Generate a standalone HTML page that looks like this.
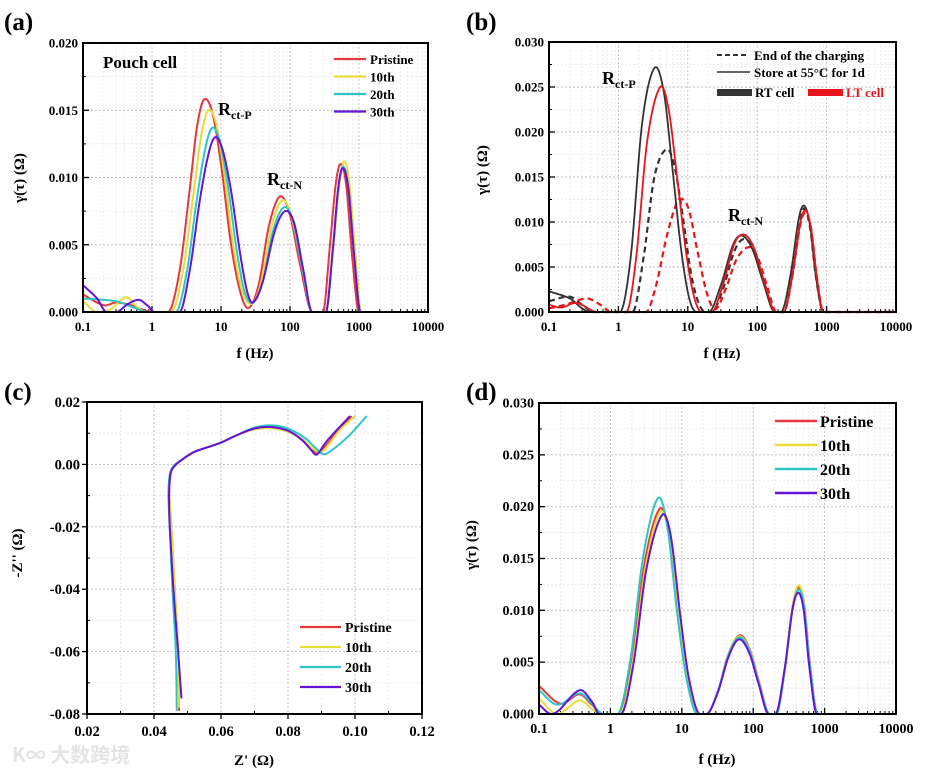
<!DOCTYPE html>
<html><head><meta charset="utf-8"><style>
html,body{margin:0;padding:0;background:#fff;}
svg{display:block;font-family:"Liberation Serif","Noto Serif CJK SC",serif;font-weight:bold;}
</style></head><body>
<svg id="fig" width="925" height="772" viewBox="0 0 925 772" xmlns="http://www.w3.org/2000/svg">
<text x="4" y="30" font-size="25">(a)</text>
<text x="466" y="30" font-size="25">(b)</text>
<text x="4" y="400" font-size="25">(c)</text>
<text x="466" y="400" font-size="25">(d)</text>
<text x="12" y="762" font-size="20" fill="#e4e4e4" font-family="Noto Sans CJK SC, sans-serif">K∞ 大数跨境</text>
</svg>
<script>
// ---------- Panel (a) data ----------
const aRedF=[0.1,0.2,0.3,0.5,0.8,1.2,1.7,2.5,3.5,4.5,5.7,7.5,10,14,19,25,35,50,72,100,140,210,300,380,460,540,650,800,1000,10000];
const aRedV=[.0013,.0005,.0007,.0005,.0001,0,0,.003,.009,.0138,.0158,.0148,.011,.005,.0015,.0003,.002,.0065,.0086,.0072,.0035,0,0,.005,.0095,.011,.0095,.004,0,0];
const aYelF=[0.1,0.16,0.25,0.42,0.6,0.8,1.9,2.8,4,5.2,6.6,8.5,11,15,20,28,38,55,78,105,150,210,330,420,520,620,730,880,1080,10000];
const aYelV=[.0008,0,.0002,.0011,.0004,0,0,.003,.0088,.0132,.015,.014,.0105,.005,.0017,.0006,.0022,.0065,.0083,.0071,.0033,0,0,.0045,.0095,.0112,.0095,.0045,0,0];
const aCyaF=[0.1,0.3,0.5,0.9,2.2,3.2,4.5,6,7.5,9.5,12.5,17,22,29,40,58,83,110,150,210,330,420,500,590,700,850,1050,10000];
const aCyaV=[.001,.0008,.0004,0,0,.003,.0085,.0123,.0137,.0128,.0095,.0045,.0015,.0007,.0022,.0062,.0078,.0068,.0033,0,0,.0048,.0092,.0108,.0093,.0042,0,0];
const aPurF=[0.1,0.16,0.22,0.3,0.45,0.65,0.85,1.1,2.5,3.5,5,6.7,8.3,10.5,14,19,24,29,40,60,85,115,155,210,330,420,500,580,700,850,1050,10000];
const aPurV=[.002,.001,0,0,.0006,.0009,.0005,0,0,.003,.0085,.0119,.013,.0121,.009,.0043,.0015,.0007,.0022,.006,.0075,.0066,.0032,0,0,.0048,.0092,.0107,.0092,.0042,0,0];
const aYTicks=[0,0.005,0.010,0.015,0.020];
const aYLabels=["0.000","0.005","0.010","0.015","0.020"];
const fTicks=[0.1,1,10,100,1000,10000];
const fLabels=["0.1","1","10","100","1000","10000"];
const cycleNames=["Pristine","10th","20th","30th"];
// ---------- Panel (b) data ----------
const bRTsF=[0.1,0.2,0.3,0.4,1.05,1.5,2.2,3.3,4.5,6,8,10.5,13.5,20,30,45,60,85,120,180,220,300,400,480,580,700,900,10000];
const bRTsV=[.0023,.0015,.0004,0,0,.006,.021,.0271,.0245,.016,.007,.0015,0,0,.003,.0075,.0085,.007,.0035,0,0,.004,.0105,.0118,.0095,.004,0,0];
const bLTsF=[0.1,0.15,0.25,0.5,1.3,1.8,2.6,4,5.3,7,9.5,12.5,16,22,32,47,65,90,125,185,240,320,420,500,600,720,900,10000];
const bLTsV=[.0008,.0005,.001,0,0,.006,.019,.025,.0225,.015,.0065,.0015,0,0,.003,.0076,.0086,.0071,.0035,0,0,.004,.0100,.0113,.0092,.004,0,0];
const bRTdF=[0.1,0.2,0.3,0.45,1.6,2.3,3.3,5,6.5,8.5,11,14,18,22,32,47,65,90,125,185,240,320,420,480,580,700,900,10000];
const bRTdV=[.0012,.0017,.0008,0,0,.006,.015,.0181,.016,.0105,.0045,.0012,0,0,.0025,.0068,.0081,.0068,.0033,0,0,.004,.0102,.0115,.0093,.004,0,0];
const bLTdF=[0.1,0.17,0.35,0.55,0.8,2.5,3.5,5,7,8.5,10.5,14,19,25,35,50,75,100,135,190,240,320,420,500,600,720,900,10000];
const bLTdV=[.0004,.0008,.0015,.0008,0,0,.003,.0085,.0122,.0125,.0112,.0065,.002,.0003,.0025,.0058,.0072,.0062,.0032,0,0,.004,.0098,.011,.0092,.004,0,0];
const bdYTicks=[0,0.005,0.010,0.015,0.020,0.025,0.030];
const bdYLabels=["0.000","0.005","0.010","0.015","0.020","0.025","0.030"];
// ---------- Panel (c) data ----------
const cRedZ=[0.0475,0.0472,0.0462,0.0452,0.0446,0.0447,0.0452,0.0466,0.049,0.052,0.056,0.060,0.065,0.070,0.075,0.080,0.084,0.087,0.089,0.091,0.095,0.099];
const cRedI=[-0.079,-0.06,-0.04,-0.02,-0.01,-0.005,-0.002,0,0.002,0.004,0.0055,0.007,0.0095,0.0113,0.0118,0.0106,0.008,0.0048,0.0038,0.0055,0.011,0.0155];
const cYelZ=[0.0475,0.0472,0.0462,0.0452,0.0446,0.0447,0.0452,0.0466,0.049,0.052,0.056,0.060,0.065,0.070,0.075,0.080,0.0845,0.0875,0.0895,0.0915,0.0955,0.1];
const cYelI=[-0.078,-0.06,-0.04,-0.02,-0.01,-0.005,-0.002,0,0.002,0.004,0.0055,0.007,0.0095,0.0112,0.0116,0.0104,0.0078,0.005,0.0038,0.0055,0.011,0.0155];
const cCyaZ=[0.0468,0.0465,0.0455,0.0447,0.0443,0.0445,0.045,0.0463,0.049,0.052,0.056,0.060,0.065,0.070,0.075,0.080,0.085,0.088,0.0905,0.093,0.098,0.1035];
const cCyaI=[-0.079,-0.06,-0.04,-0.02,-0.01,-0.005,-0.002,0,0.002,0.004,0.0055,0.007,0.0095,0.0118,0.0125,0.0115,0.0085,0.0055,0.0033,0.0045,0.009,0.0155];
const cPurZ=[0.0482,0.0472,0.0458,0.0447,0.0445,0.0447,0.0452,0.0466,0.049,0.052,0.056,0.060,0.065,0.070,0.075,0.080,0.084,0.087,0.088,0.089,0.092,0.0985];
const cPurI=[-0.075,-0.06,-0.04,-0.02,-0.01,-0.005,-0.002,0,0.002,0.004,0.0055,0.007,0.0095,0.0115,0.012,0.0108,0.008,0.0045,0.0033,0.0035,0.008,0.0155];
const cXTicks=[0.02,0.04,0.06,0.08,0.10,0.12];
const cXLabels=["0.02","0.04","0.06","0.08","0.10","0.12"];
const cYTicks=[-0.08,-0.06,-0.04,-0.02,0,0.02];
const cYLabels=["-0.08","-0.06","-0.04","-0.02","0.00","0.02"];
// ---------- Panel (d) data ----------
const dRedF=[0.1,0.2,0.37,0.55,0.8,1.3,2,3,4.9,6.5,9,12,17,22,32,45,65,90,120,170,210,280,360,440,520,620,800,10000];
const dRedV=[.0027,.001,.0019,.0009,0,0,.005,.0145,.0198,.0175,.0095,.0035,0,0,.0022,.0058,.0076,.0062,.0032,0,0,.0045,.0105,.0122,.0105,.005,0,0];
const dYelF=[0.1,0.18,0.37,0.6,0.8,1.35,2.05,3.1,5.0,6.6,9.1,12,17,22,32,45,64,90,120,170,210,280,360,440,520,620,800,10000];
const dYelV=[.0015,0,.0013,.0003,0,0,.005,.0142,.0195,.0173,.0094,.0034,0,0,.0022,.0058,.0075,.0061,.0031,0,0,.0045,.0107,.0124,.0104,.0048,0,0];
const dCyaF=[0.1,0.18,0.37,0.55,0.8,1.25,1.9,2.85,4.6,6.2,8.6,11.5,16.5,22,32,45,64,90,120,170,210,280,360,440,520,620,800,10000];
const dCyaV=[.0023,.0009,.002,.001,0,0,.0052,.015,.0208,.0183,.0098,.0036,0,0,.0022,.0057,.0074,.006,.003,0,0,.0045,.0103,.012,.0102,.0048,0,0];
const dPurF=[0.1,0.15,0.37,0.55,0.7,1.4,2.1,3.2,5.3,7,9.6,12.6,18,22,32,45,63,88,118,165,205,275,355,430,510,610,780,10000];
const dPurV=[.0009,0,.0023,.0012,0,0,.0048,.014,.0192,.0172,.0093,.0034,0,0,.0021,.0055,.0072,.0059,.003,0,0,.0043,.0101,.0117,.01,.0046,0,0];

const NS="http://www.w3.org/2000/svg";
const svg=document.getElementById('fig');
function el(tag,attrs,parent){const e=document.createElementNS(NS,tag);for(const k in attrs)e.setAttribute(k,attrs[k]);(parent||svg).appendChild(e);return e;}
function txt(s,x,y,size,anchor,parent,fill){const t=el('text',{x:x,y:y,'font-size':size,'text-anchor':anchor||'start',fill:fill||'#000'},parent);t.textContent=s;return t;}

// cubic Hermite with Catmull-Rom tangents (flat at zeros), clamped to >= 0
function monoPath(xs,ys,sx,sy){
  const n=xs.length,m=[];
  for(let i=0;i<n;i++){
    if(ys[i]===0||i===0||i===n-1){m[i]=(i===0)?(ys[1]-ys[0])/(xs[1]-xs[0]):(i===n-1?0:0);if(ys[i]===0)m[i]=0;continue;}
    m[i]=(ys[i+1]-ys[i-1])/(xs[i+1]-xs[i-1]);}
  let p='';
  for(let i=0;i<n-1;i++){const h=xs[i+1]-xs[i];const steps=14;
    for(let k=(i===0?0:1);k<=steps;k++){const t=k/steps,t2=t*t,t3=t2*t;
      const y=(2*t3-3*t2+1)*ys[i]+(t3-2*t2+t)*h*m[i]+(-2*t3+3*t2)*ys[i+1]+(t3-t2)*h*m[i+1];
      const x=xs[i]+t*h;p+=(p?'L':'M')+sx(x).toFixed(2)+','+sy(Math.max(0,y)).toFixed(2);}}
  return p;}
function crPath(xs,ys,sx,sy){
  const P=xs.map((x,i)=>[sx(x),sy(ys[i])]);let p='M'+P[0][0]+','+P[0][1];
  for(let i=0;i<P.length-1;i++){const p0=P[Math.max(0,i-1)],p1=P[i],p2=P[i+1],p3=P[Math.min(P.length-1,i+2)];
    p+='C'+(p1[0]+(p2[0]-p0[0])/6)+','+(p1[1]+(p2[1]-p0[1])/6)+' '+(p2[0]-(p3[0]-p1[0])/6)+','+(p2[1]-(p3[1]-p1[1])/6)+' '+p2[0]+','+p2[1];}
  return p;}

function logAxes(g,L,R,T,B,ymax,yTicks,yLabels,fs){
  const sx=f=>L+(Math.log10(f)+1)/5*(R-L);
  const sy=v=>B-v/ymax*(B-T);
  for(let dec=-1;dec<4;dec++)for(let k=2;k<10;k++){const x=sx(k*Math.pow(10,dec));
    el('line',{x1:x,x2:x,y1:T,y2:B,stroke:'#e6e6e6','stroke-width':0.8,'stroke-dasharray':'2,2'},g);
    el('line',{x1:x,x2:x,y1:B,y2:B-3,stroke:'#000','stroke-width':1},g);}
  for(let i=0;i<yTicks.length-1;i++){const y=sy((yTicks[i]+yTicks[i+1])/2);
    el('line',{x1:L,x2:R,y1:y,y2:y,stroke:'#e6e6e6','stroke-width':0.8,'stroke-dasharray':'2,2'},g);
    el('line',{x1:L,x2:L+3,y1:y,y2:y,stroke:'#000','stroke-width':1},g);}
  fTicks.forEach((f,i)=>{const x=sx(f);
    el('line',{x1:x,x2:x,y1:T,y2:B,stroke:'#bdbdbd','stroke-width':0.9,'stroke-dasharray':'2,2'},g);
    el('line',{x1:x,x2:x,y1:B,y2:B-6,stroke:'#000','stroke-width':1.3},g);
    const t=txt(fLabels[i],x,B+19,fs,'middle',g);
    
    });
  yTicks.forEach((v,i)=>{const y=sy(v);
    el('line',{x1:L,x2:R,y1:y,y2:y,stroke:'#bdbdbd','stroke-width':0.9,'stroke-dasharray':'2,2'},g);
    el('line',{x1:L,x2:L+6,y1:y,y2:y,stroke:'#000','stroke-width':1.3},g);
    const t=txt(yLabels[i],L-5,y+4.5,fs,'end',g);
    
    });
  return {sx,sy};}
function frame(g,L,R,T,B){const r=el('rect',{x:L,y:T,width:R-L,height:B-T,fill:'none',stroke:'#000','stroke-width':2},g);
  
  }

const COLS=['#e8373c','#e6dc3a','#2cc6c4','#6516d4'];

// ===== Panel a =====
(function(){
  const g=el('g',{});
  const L=83,R=428,T=43,B=312;
  const {sx,sy}=logAxes(g,L,R,T,B,0.020,aYTicks,aYLabels,13);
  const F=[aRedF,aYelF,aCyaF,aPurF],V=[aRedV,aYelV,aCyaV,aPurV];
  F.forEach((f,i)=>{const p=el('path',{d:monoPath(f.map(Math.log10),V[i],x=>L+(x+1)/5*(R-L),sy),fill:'none',stroke:COLS[i],'stroke-width':2},g);
    
    });
  frame(g,L,R,T,B);
  cycleNames.forEach((n,i)=>{const y=59+i*17.5;
    const ln=el('line',{x1:334,x2:366,y1:y,y2:y,stroke:COLS[i],'stroke-width':2.2},g);
    
    
    const t=txt(n,370,y+5,13,'start',g);
    
    });
  const pc=txt('Pouch cell',103,68,17,'start',g);
  const r1=el('text',{x:218,y:115,'font-size':18},g);r1.innerHTML='R<tspan font-size="12" dy="4">ct-P</tspan>';
  
  const r2=el('text',{x:267,y:185,'font-size':18},g);r2.innerHTML='R<tspan font-size="12" dy="4">ct-N</tspan>';
  
  const xt=txt('f (Hz)',255,358,15,'middle',g);
  const yt=txt('γ(τ) (Ω)',0,0,15,'middle',g);yt.setAttribute('transform','translate(24,178) rotate(-90)');
  
})();

// ===== Panel b =====
(function(){
  const g=el('g',{});
  const L=549,R=896,T=42,B=312;
  const {sx,sy}=logAxes(g,L,R,T,B,0.030,bdYTicks,bdYLabels,13);
  const lx=x=>L+(x+1)/5*(R-L);
  const S=[[bRTdF,bRTdV,'#333',true,'series-rt-end-charging'],[bLTdF,bLTdV,'#e8141b',true,'series-lt-end-charging'],[bRTsF,bRTsV,'#333',false,'series-rt-stored'],[bLTsF,bLTsV,'#e8141b',false,'series-lt-stored']];
  S.forEach(s=>{const a={d:monoPath(s[0].map(Math.log10),s[1],lx,sy),fill:'none',stroke:s[2],'stroke-width':s[3]?2.2:1.8};if(s[3])a['stroke-dasharray']='6,4';
    const p=el('path',a,g);
    
    });
  frame(g,L,R,T,B);
  const l1=el('line',{x1:717,x2:746,y1:55,y2:55,stroke:'#333','stroke-width':2,'stroke-dasharray':'5,3'},g);
  
  const t1=txt('End of the charging',754,60,13,'start',g);
  const l2=el('line',{x1:717,x2:750,y1:72,y2:72,stroke:'#333','stroke-width':1.6},g);
  
  const t2=txt('Store at 55°C for 1d',754,77,13,'start',g);
  const r1=el('rect',{x:717,y:89,width:35,height:7,fill:'#333'},g);
  const t3=txt('RT cell',755,97,13,'start',g);
  const r2=el('rect',{x:808,y:89,width:35,height:7,fill:'#e8141b'},g);
  const t4=txt('LT cell',846,97,13,'start',g,'#e8141b');
  const a1=el('text',{x:602,y:84,'font-size':18},g);a1.innerHTML='R<tspan font-size="12" dy="4">ct-P</tspan>';
  
  const a2=el('text',{x:728,y:221,'font-size':18},g);a2.innerHTML='R<tspan font-size="12" dy="4">ct-N</tspan>';
  
  const xt=txt('f (Hz)',722,358,15,'middle',g);
  const yt=txt('γ(τ) (Ω)',0,0,15,'middle',g);yt.setAttribute('transform','translate(487,170) rotate(-90)');
  
})();

// ===== Panel c =====
(function(){
  const g=el('g',{});
  const L=87,R=422,T=402,B=714;
  const sx=z=>L+(z-0.02)/0.1*(R-L), sy=v=>T+(0.02-v)/0.1*(B-T);
  for(let i=0;i<cXTicks.length-1;i++){const x=sx((cXTicks[i]+cXTicks[i+1])/2);
    el('line',{x1:x,x2:x,y1:T,y2:B,stroke:'#e6e6e6','stroke-width':0.8,'stroke-dasharray':'2,2'},g);
    el('line',{x1:x,x2:x,y1:B,y2:B-3,stroke:'#000'},g);}
  for(let i=0;i<cYTicks.length-1;i++){const y=sy((cYTicks[i]+cYTicks[i+1])/2);
    el('line',{x1:L,x2:R,y1:y,y2:y,stroke:'#e6e6e6','stroke-width':0.8,'stroke-dasharray':'2,2'},g);
    el('line',{x1:L,x2:L+3,y1:y,y2:y,stroke:'#000'},g);}
  cXTicks.forEach((v,i)=>{const x=sx(v);
    el('line',{x1:x,x2:x,y1:T,y2:B,stroke:'#bdbdbd','stroke-width':0.9,'stroke-dasharray':'2,2'},g);
    el('line',{x1:x,x2:x,y1:B,y2:B+5,stroke:'#000','stroke-width':1.3},g);
    const t=txt(cXLabels[i],x,B+22,14.5,'middle',g);
    
    });
  cYTicks.forEach((v,i)=>{const y=sy(v);
    el('line',{x1:L,x2:R,y1:y,y2:y,stroke:'#bdbdbd','stroke-width':0.9,'stroke-dasharray':'2,2'},g);
    el('line',{x1:L,x2:L-5,y1:y,y2:y,stroke:'#000','stroke-width':1.3},g);
    const t=txt(cYLabels[i],L-7,y+5,14.5,'end',g);
    
    });
  const Z=[cRedZ,cYelZ,cCyaZ,cPurZ],I=[cRedI,cYelI,cCyaI,cPurI];
  Z.forEach((z,i)=>{const p=el('path',{d:crPath(z,I[i],sx,sy),fill:'none',stroke:COLS[i],'stroke-width':2},g);
    
    });
  frame(g,L,R,T,B);
  cycleNames.forEach((n,i)=>{const y=627+i*20;
    const ln=el('line',{x1:300,x2:341,y1:y,y2:y,stroke:COLS[i],'stroke-width':2.2},g);
    
    
    const t=txt(n,345,y+5,14,'start',g);
    
    });
  const xt=txt("Z' (Ω)",254,765,15,'middle',g);
  const yt=txt("-Z'' (Ω)",0,0,15,'middle',g);yt.setAttribute('transform','translate(22,553) rotate(-90)');
  
})();

// ===== Panel d =====
(function(){
  const g=el('g',{});
  const L=539,R=896,T=403,B=714;
  const {sx,sy}=logAxes(g,L,R,T,B,0.030,bdYTicks,bdYLabels,14);
  const lx=x=>L+(x+1)/5*(R-L);
  const F=[dRedF,dYelF,dCyaF,dPurF],V=[dRedV,dYelV,dCyaV,dPurV];
  F.forEach((f,i)=>{const p=el('path',{d:monoPath(f.map(Math.log10),V[i],lx,sy),fill:'none',stroke:COLS[i],'stroke-width':2},g);
    
    });
  frame(g,L,R,T,B);
  cycleNames.forEach((n,i)=>{const y=421+i*24;
    const ln=el('line',{x1:775,x2:817,y1:y,y2:y,stroke:COLS[i],'stroke-width':2.4},g);
    
    
    const t=txt(n,820,y+6,16,'start',g);
    
    });
  const xt=txt('f (Hz)',717,764,15,'middle',g);
  const yt=txt('γ(τ) (Ω)',0,0,15,'middle',g);yt.setAttribute('transform','translate(476,545) rotate(-90)');
  
})();
</script>
</body></html>
